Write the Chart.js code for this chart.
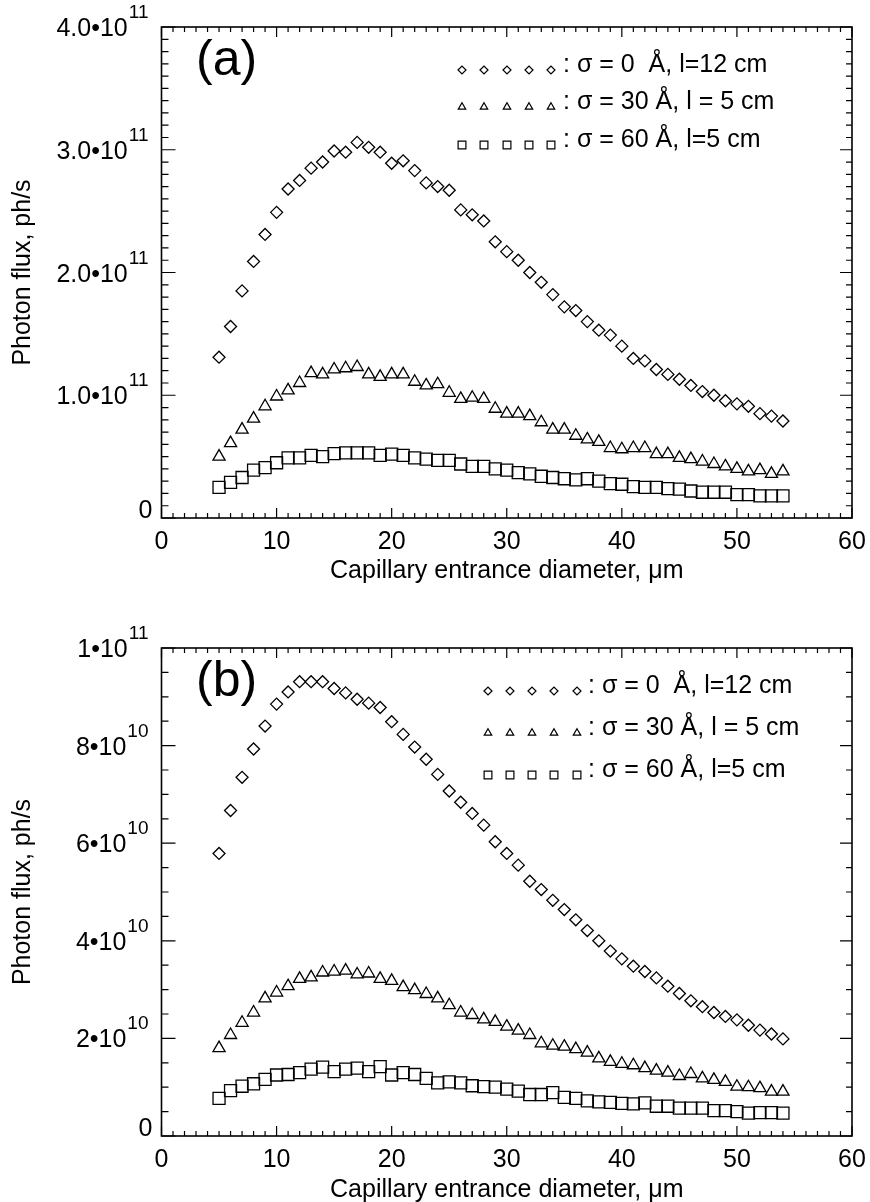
<!DOCTYPE html>
<html>
<head>
<meta charset="utf-8">
<script src="https://cdn.jsdelivr.net/npm/chart.js@4.4.1/dist/chart.umd.min.js"></script>
<style>
    html, body { margin: 0; padding: 0; background: #fff; }
    #wrap { position: relative; width: 870px; height: 1202px; }
    canvas { position: absolute; left: 0; }
</style>
</head>
<body>
<div id="wrap">
    <canvas id="chartA" width="870" height="600" style="top:0"></canvas>
    <canvas id="chartB" width="870" height="602" style="top:600px"></canvas>
</div>
<script>
// Capillary entrance diameter, um
const diameters = [5, 6, 7, 8, 9, 10, 11, 12, 13, 14, 15, 16, 17, 18, 19, 20, 21, 22, 23, 24,
    25, 26, 27, 28, 29, 30, 31, 32, 33, 34, 35, 36, 37, 38, 39, 40, 41, 42, 43, 44,
    45, 46, 47, 48, 49, 50, 51, 52, 53, 54];

// Panel (a): photon flux in units of 1e11 ph/s
const fluxA_sigma0 = [1.31, 1.56, 1.85, 2.09, 2.31, 2.49, 2.68, 2.75, 2.85, 2.90,
    2.99, 2.98, 3.06, 3.02, 2.98, 2.89, 2.91, 2.83, 2.73, 2.70,
    2.67, 2.51, 2.47, 2.42, 2.25, 2.17, 2.10, 2.00, 1.92, 1.82,
    1.72, 1.69, 1.60, 1.53, 1.49, 1.40, 1.30, 1.28, 1.21, 1.17,
    1.13, 1.08, 1.03, 1.00, 0.955, 0.93, 0.91, 0.85, 0.83, 0.79];
const fluxA_sigma30 = [0.50, 0.61, 0.72, 0.81, 0.91, 0.99, 1.04, 1.10, 1.18, 1.17,
    1.21, 1.22, 1.23, 1.17, 1.15, 1.17, 1.17, 1.11, 1.08, 1.09,
    1.02, 0.97, 0.98, 0.97, 0.89, 0.85, 0.85, 0.83, 0.78, 0.72,
    0.72, 0.67, 0.64, 0.62, 0.57, 0.56, 0.57, 0.57, 0.52, 0.52,
    0.49, 0.48, 0.46, 0.44, 0.42, 0.40, 0.38, 0.39, 0.36, 0.38];
const fluxA_sigma60 = [0.25, 0.29, 0.33, 0.39, 0.41, 0.45, 0.49, 0.49, 0.51, 0.50,
    0.525, 0.53, 0.53, 0.53, 0.51, 0.52, 0.51, 0.49, 0.48, 0.47,
    0.47, 0.44, 0.42, 0.42, 0.40, 0.39, 0.37, 0.36, 0.34, 0.33,
    0.32, 0.31, 0.32, 0.30, 0.28, 0.275, 0.255, 0.25, 0.25, 0.24,
    0.235, 0.22, 0.21, 0.21, 0.21, 0.19, 0.19, 0.18, 0.18, 0.18];

// Panel (b): photon flux in units of 1e10 ph/s
const fluxB_sigma0 = [5.79, 6.67, 7.35, 7.93, 8.40, 8.85, 9.10, 9.31, 9.31, 9.31,
    9.17, 9.08, 8.95, 8.87, 8.78, 8.49, 8.23, 7.97, 7.72, 7.41,
    7.07, 6.84, 6.61, 6.37, 6.03, 5.79, 5.55, 5.22, 5.05, 4.83,
    4.64, 4.43, 4.21, 4.00, 3.79, 3.63, 3.48, 3.37, 3.24, 3.07,
    2.92, 2.77, 2.65, 2.53, 2.45, 2.38, 2.27, 2.17, 2.09, 1.99];
const fluxB_sigma30 = [1.80, 2.07, 2.32, 2.53, 2.82, 2.94, 3.07, 3.22, 3.25, 3.35,
    3.37, 3.39, 3.31, 3.33, 3.22, 3.18, 3.05, 2.99, 2.91, 2.82,
    2.68, 2.53, 2.48, 2.39, 2.34, 2.24, 2.16, 2.07, 1.90, 1.85,
    1.83, 1.78, 1.71, 1.59, 1.52, 1.48, 1.45, 1.39, 1.34, 1.30,
    1.23, 1.27, 1.18, 1.15, 1.11, 1.01, 1.00, 0.98, 0.91, 0.91];
const fluxB_sigma60 = [0.77, 0.93, 1.02, 1.07, 1.16, 1.25, 1.26, 1.30, 1.37, 1.41,
    1.32, 1.37, 1.39, 1.32, 1.42, 1.25, 1.30, 1.26, 1.18, 1.09,
    1.11, 1.09, 1.03, 1.01, 1.00, 0.96, 0.92, 0.85, 0.85, 0.89,
    0.79, 0.77, 0.72, 0.70, 0.69, 0.67, 0.66, 0.68, 0.61, 0.61,
    0.57, 0.57, 0.57, 0.52, 0.52, 0.50, 0.47, 0.48, 0.48, 0.47];

// Tick labels
const xTickValues = [0, 10, 20, 30, 40, 50, 60];
const xTickLabels = ['0', '10', '20', '30', '40', '50', '60'];
const yTickValuesA = [0, 1, 2, 3, 4];
const yTickBaseA = ['0', '1.0•10', '2.0•10', '3.0•10', '4.0•10'];
const yTickExpA = ['', '11', '11', '11', '11'];
const yTickValuesB = [0, 2, 4, 6, 8, 10];
const yTickBaseB = ['0', '2•10', '4•10', '6•10', '8•10', '1•10'];
const yTickExpB = ['', '10', '10', '10', '10', '11'];

const legendLabelsA = [': σ = 0  Å, l=12 cm', ': σ = 30 Å, l = 5 cm', ': σ = 60 Å, l=5 cm'];
const legendLabelsB = [': σ = 0  Å, l=12 cm', ': σ = 30 Å, l = 5 cm', ': σ = 60 Å, l=5 cm'];

const xTitle = 'Capillary entrance diameter, μm';
const yTitle = 'Photon flux, ph/s';

const FONT = '"Liberation Sans", Arial, Helvetica, sans-serif';
const MARKERS = [
    { style: 'rectRot', radius: 6, legendRadius: 4 },
    { style: 'triangle', radius: 7, legendRadius: 4.3 },
    { style: 'rect', radius: 8.5, legendRadius: 5.5 }
];

/**
 * Draws the boxed frame, inward ticks, labels, titles and the symbol legend
 */
const figurePlugin = {
    id: 'figure',
    afterDraw(chart, args, opts) {
        const { ctx, chartArea: a, scales: { x, y } } = chart;
        ctx.save();
        ctx.strokeStyle = '#000';
        ctx.fillStyle = '#000';

        // frame
        ctx.lineWidth = 1.6;
        ctx.strokeRect(a.left, a.top, a.right - a.left, a.bottom - a.top);

        // x ticks, minor every 1, major every 10
        ctx.lineWidth = 1.2;
        ctx.beginPath();
        for (let i = 0; i <= 60; i++) {
            const px = x.getPixelForValue(i);
            const len = i % 10 === 0 ? 10 : 5;
            ctx.moveTo(px, a.bottom); ctx.lineTo(px, a.bottom - len);
            ctx.moveTo(px, a.top); ctx.lineTo(px, a.top + len);
        }
        // y ticks
        for (let i = 0; i <= opts.yMinorCount; i++) {
            const py = y.getPixelForValue(i * opts.yMinorStep);
            const major = i % opts.yMajorEvery === 0;
            const len = major ? 14 : 7;
            ctx.moveTo(a.left, py); ctx.lineTo(a.left + len, py);
            ctx.moveTo(a.right, py); ctx.lineTo(a.right - (major ? 12 : 6), py);
        }
        ctx.stroke();

        // x tick labels
        ctx.font = '25px ' + FONT;
        ctx.textAlign = 'center';
        ctx.textBaseline = 'alphabetic';
        xTickValues.forEach((v, i) => {
            ctx.fillText(xTickLabels[i], x.getPixelForValue(v), a.bottom + 31);
        });

        // y tick labels with superscript exponents
        opts.yValues.forEach((v, i) => {
            const py = y.getPixelForValue(v);
            const base = opts.yBase[i];
            const exp = opts.yExp[i];
            ctx.textAlign = 'right';
            if (!exp) {
                ctx.font = '25px ' + FONT;
                ctx.fillText(base, a.left - 9, py);
                return;
            }
            ctx.font = '19px ' + FONT;
            const expRight = a.left - 13;
            const expWidth = ctx.measureText(exp).width;
            ctx.fillText(exp, expRight, py - 9);
            ctx.font = '25px ' + FONT;
            ctx.fillText(base, expRight - expWidth - 1, py + 9);
        });

        // axis titles
        ctx.font = '25px ' + FONT;
        ctx.textAlign = 'center';
        ctx.fillText(xTitle, (a.left + a.right) / 2, opts.xTitleBaseline);
        ctx.save();
        ctx.translate(30, (a.top + a.bottom) / 2);
        ctx.rotate(-Math.PI / 2);
        ctx.fillText(yTitle, 0, 0);
        ctx.restore();

        // panel letter
        ctx.font = '50px ' + FONT;
        ctx.textAlign = 'left';
        ctx.fillText(opts.panel, 196, opts.panelBaseline);

        // legend: five small hollow symbols per row, then the label
        ctx.lineWidth = 1.2;
        opts.legendRows.forEach((rowY, r) => {
            const m = MARKERS[r];
            ctx.fillStyle = 'rgba(0,0,0,0)';
            opts.legendXs.forEach(lx => {
                Chart.helpers.drawPoint(ctx, {
                    pointStyle: m.style, radius: m.legendRadius, rotation: 0, borderWidth: 1.2
                }, lx, rowY - 2);
            });
            ctx.fillStyle = '#000';
            ctx.font = '25px ' + FONT;
            ctx.fillText(opts.legend[r], opts.legendTextX, rowY);
        });
        ctx.restore();
    }
};

function makeChart(canvasId, series, yMax, padding, figure) {
    return new Chart(document.getElementById(canvasId), {
        type: 'scatter',
        data: {
            datasets: series.map((values, k) => ({
                data: diameters.map((d, i) => ({ x: d, y: values[i] })),
                pointStyle: MARKERS[k].style,
                pointRadius: MARKERS[k].radius,
                borderColor: '#000',
                backgroundColor: 'rgba(0,0,0,0)',
                borderWidth: 1.3,
                showLine: false
            }))
        },
        options: {
            responsive: false,
            animation: false,
            devicePixelRatio: 1,
            layout: { padding },
            scales: {
                x: { type: 'linear', min: 0, max: 60, display: false },
                y: { type: 'linear', min: 0, max: yMax, display: false }
            },
            plugins: {
                legend: { display: false },
                tooltip: { enabled: false },
                figure
            }
        },
        plugins: [figurePlugin]
    });
}

makeChart('chartA', [fluxA_sigma0, fluxA_sigma30, fluxA_sigma60], 4,
    { left: 161.5, right: 18, top: 27, bottom: 82 },
    {
        yMinorStep: 0.1, yMinorCount: 40, yMajorEvery: 10,
        yValues: yTickValuesA, yBase: yTickBaseA, yExp: yTickExpA,
        xTitleBaseline: 578,
        panel: '(a)', panelBaseline: 75,
        legend: legendLabelsA,
        legendRows: [72, 109, 147],
        legendXs: [462, 484, 507, 529, 551],
        legendTextX: 563
    });

makeChart('chartB', [fluxB_sigma0, fluxB_sigma30, fluxB_sigma60], 10,
    { left: 161.5, right: 18, top: 48, bottom: 66 },
    {
        yMinorStep: 0.5, yMinorCount: 20, yMajorEvery: 4,
        yValues: yTickValuesB, yBase: yTickBaseB, yExp: yTickExpB,
        xTitleBaseline: 597,
        panel: '(b)', panelBaseline: 96,
        legend: legendLabelsB,
        legendRows: [93, 135, 177],
        legendXs: [488, 510, 532, 554, 577],
        legendTextX: 588
    });
</script>
</body>
</html>
